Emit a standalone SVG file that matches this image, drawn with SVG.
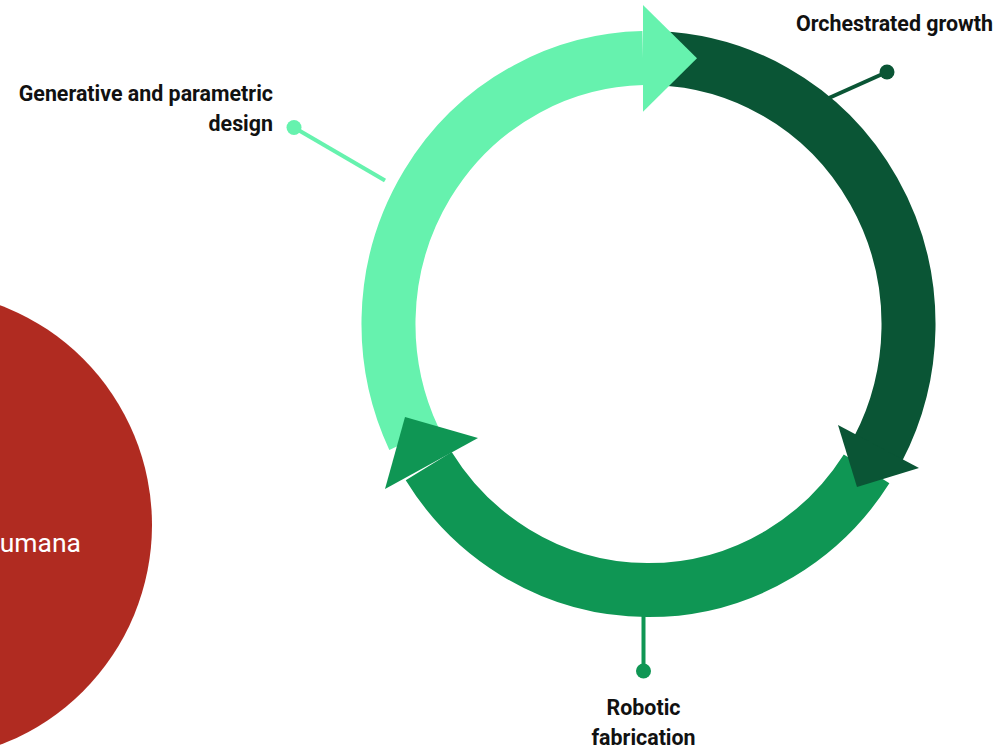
<svg xmlns="http://www.w3.org/2000/svg" width="1004" height="750" viewBox="0 0 1004 750">
<style>
.lbl{font-family:Roboto,"Liberation Sans",sans-serif;font-weight:700;font-size:21.4px;fill:#111}
.arc{fill:none;stroke-width:54;stroke-linecap:butt}
.lead{stroke-width:4;fill:none}
</style>
<rect width="1004" height="750" fill="#fff"/>
<g id="node-humana">
<circle cx="-83" cy="525" r="235" fill="#B02B21"/>
<text x="81" y="552" text-anchor="end" font-family="Roboto,'Liberation Sans',sans-serif" font-size="26.5" fill="#fff">umana</text>
</g>
<g id="connectors">
<line class="lead" x1="385" y1="180.5" x2="294" y2="127.5" stroke="#66F2AE"/>
<line class="lead" x1="820" y1="102" x2="887" y2="72" stroke="#0A5535"/>
<line class="lead" x1="643.5" y1="600" x2="643.5" y2="671" stroke="#0F9654"/>
<circle cx="294" cy="127.5" r="7.5" fill="#66F2AE"/>
<circle cx="887" cy="72" r="7.5" fill="#0A5535"/>
<circle cx="643.5" cy="671" r="7.5" fill="#0F9654"/>
</g>
<g id="cycle">
<path class="arc" stroke="#66F2AE" d="M 413.8 438.5 A 260 266 0 0 1 643 58.06"/>
<path class="arc" stroke="#0A5535" d="M 657.6 58.2 A 260 266 0 0 1 878.1 448.9"/>
<path class="arc" stroke="#0F9654" d="M 866.6 468.9 A 260 266 0 0 1 428.7 466.1"/>
<polygon fill="#66F2AE" points="643,5 697,58.3 643,111.7"/>
<polygon fill="#0A5535" points="838,425 919,468 857,487"/>
<polygon fill="#0F9654" points="405,417 478,438 385,489"/>
</g>
<g id="node-generative">
<text class="lbl" x="273" y="101" text-anchor="end">Generative and parametric</text>
<text class="lbl" x="273" y="131" text-anchor="end">design</text>
</g>
<g id="node-orchestrated">
<text class="lbl" x="993" y="31" text-anchor="end">Orchestrated growth</text>
</g>
<g id="node-robotic">
<text class="lbl" x="643.5" y="715" text-anchor="middle">Robotic</text>
<text class="lbl" x="643.5" y="745" text-anchor="middle">fabrication</text>
</g>
</svg>
